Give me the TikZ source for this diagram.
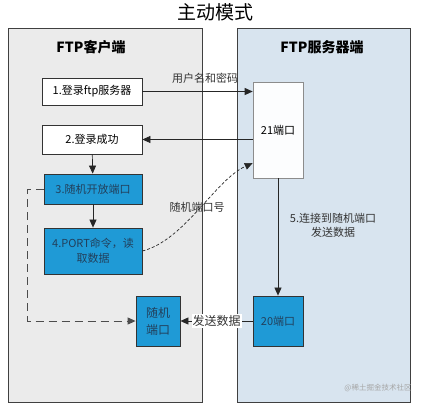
\documentclass[tikz,border=0pt]{standalone}
\usepackage{fontspec}
\setmainfont{Noto Sans CJK SC}
\usepackage{xcolor}
\usetikzlibrary{arrows.meta,positioning}
\definecolor{clientgray}{HTML}{EBEBEB}
\definecolor{serverblue}{HTML}{D8E4EF}
\definecolor{portblue}{HTML}{1F9AD6}
\definecolor{porttext}{HTML}{22405C}

\begin{document}
\begin{tikzpicture}[x=1pt,y=-1pt,>={Triangle[length=8pt,width=7pt]},
  panel/.style={draw=black!75,line width=0.8pt},
  wbox/.style={draw=black!80,fill=white,line width=0.8pt,minimum width=100pt,minimum height=27pt,font=\fontsize{11}{13}\selectfont},
  bbox/.style={draw=black!80,fill=portblue,text=porttext,line width=0.8pt,align=center,font=\fontsize{11}{15}\selectfont},
  lbl/.style={font=\fontsize{11}{14}\selectfont,text=black!80,align=center},
  conn/.style={->,draw=black!85,line width=0.7pt}]
\useasboundingbox (0,0) rectangle (430,405);
% panels
\draw[panel,fill=clientgray] (8,28) rectangle (202,402);
\draw[panel,fill=serverblue] (237,28) rectangle (410,402);
\node (title) at (215,12) {\fontsize{19}{22}\selectfont 主动模式};
\node (clientlbl) at (91,47) {\fontsize{14}{17}\selectfont\bfseries FTP客户端};
\node (serverlbl) at (322,47) {\fontsize{14}{17}\selectfont\bfseries FTP服务器端};
% client side
\node[wbox] (login) at (92,91.5) {1.登录ftp服务器};
\node[wbox,minimum height=29pt] (loginok) at (92,139.5) {2.登录成功};
\node[bbox,minimum width=98pt,minimum height=30pt] (openport) at (93,189) {3.随机开放端口};
\node[bbox,minimum width=98pt,minimum height=46pt] (portcmd) at (93,251) {4.PORT命令，读\\取数据};
\node[bbox,minimum width=44pt,minimum height=50pt,font=\fontsize{12}{17}\selectfont] (randport) at (158,321) {随机\\端口};
% server side
\node[draw=black!45,fill=white!92!serverblue,line width=0.6pt,minimum width=50pt,minimum height=96pt,font=\fontsize{11}{13}\selectfont] (port21) at (278,130) {21端口};
\node[bbox,minimum width=50pt,minimum height=50pt] (port20) at (278,321) {20端口};
\coordinate (portin) at ([yshift=-33pt]port21.west);
% connectors
\draw[conn] (login.east) -- (login.east -| port21.west);
\node[lbl] (userpass) at (205,78) {用户名和密码};
\draw[conn] (port21.west |- loginok.east) -- (loginok.east);
\draw[conn] (loginok) -- (openport);
\draw[conn] (openport) -- (portcmd);
\draw[conn,densely dashed,line width=0.7pt] (portcmd.east) .. controls (185,240) and (215,180) .. (portin);
\node[lbl] (portno) at (197,207) {随机端口号};
\draw[conn] (port21.south) -- (port20.north);
\node[lbl] (connect) at (333,225) {5.连接到随机端口\\发送数据};
\draw[conn,dash pattern=on 8pt off 5pt,draw=black!70,line width=1pt] (openport.west) -- ++(-16,0) |- (randport.west);
\draw[conn] (port20.west) -- (randport.east) node[lbl,midway,fill=white,inner sep=1pt,font=\fontsize{12}{14}\selectfont] (senddata) {发送数据};
\node[text=black!35,font=\fontsize{7.5}{9}\selectfont] (mark) at (378,388) {@稀土掘金技术社区};
\end{tikzpicture}
\end{document}
